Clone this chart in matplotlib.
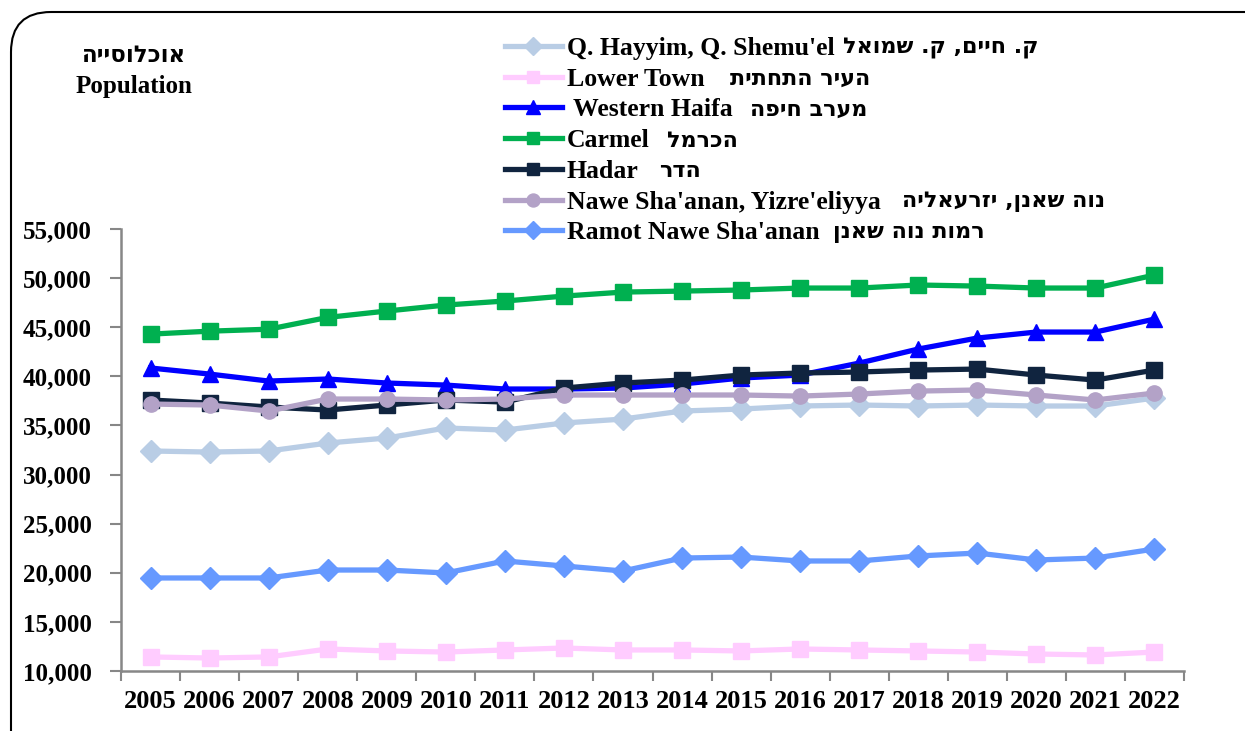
import matplotlib
matplotlib.use('Agg')
import matplotlib.pyplot as plt
from matplotlib.patches import FancyBboxPatch
from matplotlib.ticker import FuncFormatter, MultipleLocator, FixedLocator

plt.rcParams['font.family'] = ['Liberation Serif', 'DejaVu Sans']
plt.rcParams['font.weight'] = 'bold'

HEB_FONT = ['DejaVu Sans']


def heb(s):
    # matplotlib has no bidi support: write Hebrew in visual order
    return s[::-1]


years = ['2005', '2006', '2007', '2008', '2009', '2010', '2011', '2012', '2013',
         '2014', '2015', '2016', '2017', '2018', '2019', '2020', '2021', '2022']

q_hayyim = [32400, 32290, 32400, 33210, 33720, 34740, 34530, 35250, 35650,
            36470, 36670, 36980, 37080, 36980, 37080, 36980, 36980, 37790]
lower_town = [11430, 11320, 11430, 12240, 12040, 11930, 12140, 12340, 12140,
              12140, 12040, 12240, 12140, 12040, 11930, 11730, 11630, 11930]
western_haifa = [40850, 40230, 39520, 39730, 39320, 39110, 38710, 38710, 38810,
                 39220, 39830, 40130, 41350, 42780, 43900, 44510, 44510, 45830]
carmel = [44300, 44600, 44800, 46000, 46650, 47260, 47670, 48170, 48580,
          48680, 48790, 48990, 48990, 49300, 49190, 48990, 48990, 50310]
hadar = [37590, 37280, 36880, 36570, 37080, 37590, 37380, 38810, 39320,
         39620, 40130, 40340, 40440, 40640, 40740, 40130, 39620, 40640]
nawe_shaanan = [37180, 37080, 36470, 37690, 37690, 37590, 37690, 38100, 38100,
                38100, 38100, 37990, 38200, 38500, 38610, 38100, 37590, 38300]
ramot = [19470, 19470, 19470, 20280, 20280, 19980, 21200, 20690, 20180,
         21500, 21600, 21200, 21200, 21710, 22010, 21300, 21500, 22420]

names_en = ["Q. Hayyim, Q. Shemu'el", 'Lower Town', ' Western Haifa', 'Carmel', 'Hadar',
            "Nawe Sha'anan, Yizre'eliyya", "Ramot Nawe Sha'anan"]
names_he = ['ק. חיים, ק. שמואל', 'העיר התחתית', 'מערב חיפה', 'הכרמל', 'הדר',
            'נוה שאנן, יזרעאליה', 'רמות נוה שאנן']
values = [q_hayyim, lower_town, western_haifa, carmel, hadar, nawe_shaanan, ramot]
colors = ['#B9CDE5', '#FFCCFF', '#0000FF', '#00B050', '#10243F', '#B3A2C7', '#6699FF']
markers = ['D', 's', '^', 's', 's', 'o', 'D']
# horizontal gap (px) between the English and the Hebrew part of each legend entry
heb_gaps = [9, 26, 18, 18, 21, 21, 14]

fig = plt.figure(figsize=(12.45, 7.31), dpi=100)
W, H = 1245, 731

# rounded frame around the chart
bg = fig.add_axes([0, 0, 1, 1])
bg.set_xlim(0, W)
bg.set_ylim(H, 0)
bg.axis('off')
bg.add_patch(FancyBboxPatch((11, 12), 1400, 800, boxstyle='round,pad=0,rounding_size=40',
                            fill=False, edgecolor='black', linewidth=1.5))

ax = fig.add_axes([0.0972, 0.0821, 0.8538, 0.6046])
x = list(range(len(years)))
for name, vals, color, marker in zip(names_en, values, colors, markers):
    ms = 11 if marker != '^' else 12
    ax.plot(x, vals, color=color, lw=3.8, marker=marker, markersize=ms, label=name)

ax.set_xlim(-0.5, len(years) - 0.5)
ax.set_ylim(10000, 55000)
ax.yaxis.set_major_locator(MultipleLocator(5000))
ax.yaxis.set_major_formatter(FuncFormatter(lambda v, p: f'{int(v):,}'))
ax.set_xticks(x)
ax.set_xticklabels(years)
ax.xaxis.set_minor_locator(FixedLocator([i - 0.5 for i in range(len(years) + 1)]))
ax.tick_params(axis='x', which='major', length=0, pad=14, labelsize=19)
ax.tick_params(axis='x', which='minor', length=7, color='#878787', width=1.5)
ax.tick_params(axis='y', length=8, color='#878787', width=1.5, pad=13, labelsize=18)
for lab in ax.get_xticklabels() + ax.get_yticklabels():
    lab.set_fontweight('bold')

for side in ['top', 'right']:
    ax.spines[side].set_visible(False)
for side in ['left', 'bottom']:
    ax.spines[side].set_color('#878787')
    ax.spines[side].set_linewidth(1.8)

fig.text(134 / W, 1 - 55 / H, heb('אוכלוסייה'), ha='center', va='center',
         fontsize=16.5, fontweight='bold', family=HEB_FONT)
fig.text(134 / W, 1 - 86 / H, 'Population', ha='center', va='center',
         fontsize=18, fontweight='bold')

leg = fig.legend(loc='upper left', bbox_to_anchor=(505 / W, 1 - 37 / H), frameon=False,
                 prop={'size': 18.5, 'weight': 'bold'}, handlelength=2.2, handletextpad=0.2,
                 labelspacing=0.30, borderpad=0, borderaxespad=0, markerscale=0.85)

# Hebrew part of each legend entry, placed after the English text
fig.canvas.draw()
renderer = fig.canvas.get_renderer()
for t, he, gap in zip(leg.get_texts(), names_he, heb_gaps):
    bb = t.get_window_extent(renderer)
    fig.text((bb.x1 + gap) / W, (bb.y0 + bb.y1) / 2 / H, heb(he), ha='left', va='center',
             fontsize=16, fontweight='bold', family=HEB_FONT)

fig.savefig('out.png', dpi=100)
